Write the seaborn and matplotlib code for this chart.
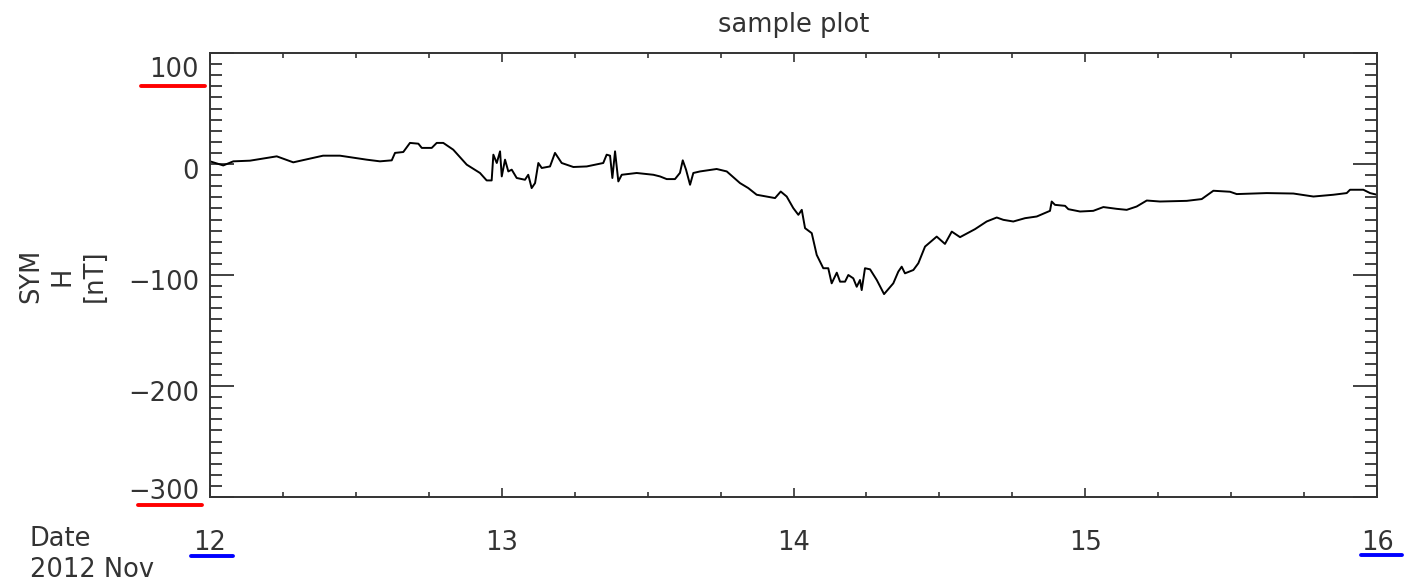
import pandas as pd
import numpy as np
import seaborn as sns
import matplotlib.pyplot as plt
import matplotlib.dates as mdates
from matplotlib.lines import Line2D
from matplotlib.transforms import ScaledTranslation

# SYM-H values (hours since 2012-11-12 00:00, nT)
hours = [0.00, 1.09, 1.92, 3.29, 5.49, 6.85, 9.30, 10.69, 12.89, 13.98,
         14.95, 15.22, 15.90, 16.45, 17.14, 17.42, 18.24, 18.65, 19.19, 20.01,
         21.12, 22.21, 22.76, 23.17, 23.31, 23.59, 23.86, 24.00, 24.27, 24.54,
         24.82, 25.23, 25.91, 26.18, 26.46, 26.74, 27.01, 27.29, 27.97, 28.38,
         28.93, 29.89, 30.99, 32.35, 32.63, 32.91, 33.10, 33.32, 33.59, 33.87,
         35.10, 36.47, 37.02, 37.57, 38.25, 38.66, 38.89, 39.16, 39.49, 39.76,
         40.31, 41.68, 42.51, 43.60, 44.28, 44.97, 46.48, 46.95, 47.44, 47.98,
         48.40, 48.68, 48.95, 49.50, 49.91, 50.45, 50.86, 51.14, 51.56, 51.83,
         52.24, 52.51, 52.92, 53.20, 53.47, 53.61, 53.88, 54.30, 54.85, 55.45,
         56.21, 56.62, 56.90, 57.17, 57.86, 58.27, 58.82, 59.78, 60.46, 61.02,
         61.70, 62.93, 63.89, 64.72, 65.26, 66.08, 67.05, 68.01, 69.10, 69.24,
         69.51, 70.34, 70.61, 71.57, 72.66, 73.49, 74.59, 75.41, 76.23, 77.06,
         78.15, 80.35, 81.58, 82.54, 83.91, 84.46, 86.93, 89.12, 90.77, 92.41,
         93.51, 93.78, 94.88, 95.43, 96.00]
symh = [2.4, -1.3, 2.4, 3.0, 6.9, 1.5, 7.5, 7.5, 3.9, 2.4,
        3.3, 10.0, 10.8, 19.0, 18.3, 14.5, 14.5, 19.0, 19.0, 12.9,
        -0.6, -8.1, -14.8, -14.8, 8.4, 0.9, 11.4, -11.2, 3.9, -6.7,
        -5.1, -12.6, -14.2, -9.7, -21.7, -17.2, 0.9, -3.6, -2.2, 10.0,
        0.9, -2.7, -2.2, 0.9, 8.4, 7.5, -12.6, 11.4, -15.7, -9.7,
        -8.1, -9.7, -11.2, -13.6, -13.6, -8.0, 3.3, -5.1, -18.7, -8.1,
        -6.7, -4.5, -6.7, -17.2, -21.7, -27.7, -30.7, -24.8, -29.3, -39.7,
        -45.8, -41.3, -57.8, -62.3, -81.9, -93.9, -93.9, -107.5, -97.9, -106.0,
        -106.0, -100.0, -103.0, -110.6, -104.5, -113.6, -93.9, -94.9, -104.5, -117.2,
        -107.5, -97.0, -92.5, -98.5, -95.5, -89.4, -74.4, -65.4, -72.0, -60.9,
        -65.9, -58.7, -51.8, -48.2, -50.3, -51.8, -48.8, -47.3, -42.2, -33.8,
        -36.8, -37.7, -40.7, -42.8, -42.2, -38.8, -40.4, -41.3, -38.3, -32.9,
        -33.8, -33.2, -31.6, -24.1, -25.0, -27.1, -26.2, -26.6, -29.3, -27.7,
        -26.2, -23.2, -23.2, -26.2, -27.7]

start = pd.Timestamp('2012-11-12')
end = pd.Timestamp('2012-11-16')
df = pd.DataFrame({'time': start + pd.to_timedelta(hours, unit='h'), 'symh': symh})

sns.set_style('ticks')
plt.rcParams['font.family'] = ['DejaVu Sans']
ink = '#333333'

W, H = 1409, 583
fig = plt.figure(figsize=(W / 100, H / 100), dpi=100)
ax = fig.add_axes([210 / W, 1 - 497 / H, 1167 / W, 444 / H])

sns.lineplot(data=df, x='time', y='symh', ax=ax, color='black', linewidth=1.4,
             estimator=None)

ax.set_xlim(start, end)
ax.set_ylim(-300, 100)
ax.set_xlabel('')
ax.set_ylabel('')
ax.set_title('sample plot', fontsize=18.5, color=ink, pad=15)

ax.xaxis.set_major_locator(mdates.DayLocator())
ax.xaxis.set_minor_locator(mdates.HourLocator(byhour=[6, 12, 18]))
ax.xaxis.set_major_formatter(mdates.DateFormatter('%-d'))
ax.yaxis.set_major_locator(plt.MultipleLocator(100))
ax.yaxis.set_minor_locator(plt.MultipleLocator(10))

ax.tick_params(axis='both', which='both', direction='in', colors=ink,
               top=True, right=True, labelsize=18.5)
ax.tick_params(axis='x', which='major', length=6.5, width=1.2, pad=24)
ax.tick_params(axis='x', which='minor', length=3.6, width=1.2)
ax.tick_params(axis='y', which='major', length=17, width=1.3, pad=8)
ax.tick_params(axis='y', which='minor', length=8.5, width=1.3)
for s in ax.spines.values():
    s.set_color(ink)
    s.set_linewidth(1.4)

# IDL-like vertical shifts of y tick labels (pixels, down is positive)
shifts = {100: 14, 0: 5, -100: 5, -200: 5, -300: -8}
fig.canvas.draw()
for lab, val in zip(ax.get_yticklabels(), ax.get_yticks()):
    d = shifts.get(int(round(val)), 0)
    lab.set_transform(lab.get_transform() + ScaledTranslation(0, -d / 100, fig.dpi_scale_trans))

fig.text(63 / W, 1 - 276 / H, 'SYM\nH\n[nT]', rotation=90, ha='center', va='center',
         fontsize=18.5, color=ink, linespacing=1.3, multialignment='center')
fig.text(30 / W, 1 - 539 / H, 'Date', ha='left', va='center', fontsize=18.5, color=ink)
fig.text(30 / W, 1 - 570 / H, '2012 Nov', ha='left', va='center', fontsize=18.5, color=ink)


def mark(x0, x1, y, color):
    fig.add_artist(Line2D([x0 / W, x1 / W], [1 - y / H, 1 - y / H],
                          transform=fig.transFigure, color=color, linewidth=2.8))


mark(141, 205, 86, 'red')
mark(138, 202, 505, 'red')
mark(191, 233, 556, 'blue')
mark(1361, 1402, 555, 'blue')

fig.savefig('out.png', dpi=100)
